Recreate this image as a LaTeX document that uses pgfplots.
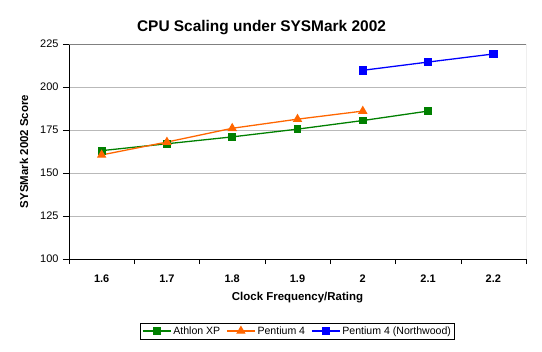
\documentclass[border=0pt]{standalone}
\usepackage{pgfplots}
\pgfplotsset{compat=1.18}
\usepackage{fontspec}
\setmainfont{Liberation Sans}
\definecolor{axgreen}{RGB}{0,128,0}
\definecolor{axorange}{RGB}{255,102,0}
\definecolor{axblue}{RGB}{0,0,255}
\begin{document}
\begin{tikzpicture}
\useasboundingbox (-69bp,-93bp) rectangle (473bp,259bp);
\begin{axis}[
  at={(0,0)}, anchor=south west,
  scale only axis,
  width=457bp, height=215bp,
  xmin=-0.5, xmax=6.5,
  ymin=100, ymax=225,
  ytick={100,125,...,225},
  xtick={0,...,6},
  xticklabels={1.6,1.7,1.8,1.9,2,2.1,2.2},
  minor xtick={-0.5,0.5,...,6.5},
  major x tick style={draw=none},
  minor x tick style={black},
  minor tick length=5bp,
  major tick length=6bp,
  tick align=outside,
  xtick pos=bottom, ytick pos=left,
  ymajorgrids,
  grid style={gray!55},
  axis x line*=bottom,
  axis y line*=left,
  x axis line style={black, -},
  y axis line style={black, -},
  ytick style={black},
  /pgf/number format/assume math mode=true,
  tick label style={font=\fontsize{11}{13}\selectfont},
  yticklabel style={xshift=-1bp},
  xticklabel style={font=\fontsize{11}{13}\selectfont\bfseries, yshift=-6bp},
  title={\bfseries CPU Scaling under SYSMark 2002},
  title style={font=\fontsize{15.5}{18}\selectfont, xshift=-36bp, yshift=0bp},
  xlabel={\bfseries Clock Frequency/Rating},
  ylabel={\bfseries SYSMark 2002 Score},
  label style={font=\fontsize{11.5}{13}\selectfont},
  xlabel style={yshift=-3bp},
  ylabel style={yshift=5bp},
  legend style={at={(axis description cs:0.5,0)}, anchor=center, yshift=-72bp,
    draw=black, font=\fontsize{10.6}{12}\selectfont, legend columns=-1,
    inner sep=1.5bp, /tikz/every even column/.append style={column sep=4bp}},
  legend image code/.code={\draw[mark repeat=2,mark phase=2] plot coordinates {(0bp,0bp) (14bp,0bp) (28bp,0bp)};},
]
\draw[gray] (rel axis cs:0,1) -- (rel axis cs:1,1) -- (rel axis cs:1,0);
\addplot[color=axgreen, line width=1.3pt, mark=square*, mark size=3.3pt, mark options={solid}]
  coordinates {(0,163) (1,167) (2,171) (3,175.5) (4,180.5) (5,186)};
\addlegendentry{Athlon XP}
\addplot[color=axorange, line width=1.3pt, mark=triangle*, mark size=4.2pt, mark options={solid}]
  coordinates {(0,160.5) (1,168) (2,176) (3,181.3) (4,186)};
\addlegendentry{Pentium 4}
\addplot[color=axblue, line width=1.3pt, mark=square*, mark size=3.6pt, mark options={solid}]
  coordinates {(4,209.7) (5,214.5) (6,219.2)};
\addlegendentry{Pentium 4 (Northwood)}
\end{axis}
\end{tikzpicture}
\end{document}
